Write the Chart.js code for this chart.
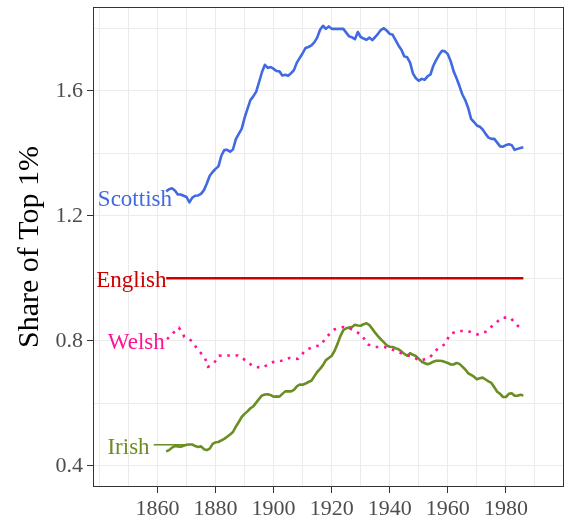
<!DOCTYPE html>
<html>
<head>
<meta charset="utf-8">
<script src="https://cdn.jsdelivr.net/npm/chart.js@4.4.0/dist/chart.umd.min.js"></script>
<style>
  html, body { margin: 0; padding: 0; background: #fff; }
  #chart { display: block; }
</style>
</head>
<body>
<canvas id="chart" width="568" height="523"></canvas>
<script>
// annual series, 1863-1986
const years = [];
for (let yr = 1863; yr <= 1986; yr++) years.push(yr);

const scottish = [
  1.278, 1.285, 1.288, 1.281, 1.268, 1.268, 1.264, 1.260, 1.243, 1.258,
  1.264, 1.265, 1.270, 1.282, 1.303, 1.328, 1.340, 1.350, 1.358, 1.392,
  1.410, 1.411, 1.405, 1.412, 1.445, 1.462, 1.478, 1.513, 1.542, 1.570,
  1.582, 1.597, 1.628, 1.660, 1.683, 1.673, 1.676, 1.670, 1.663, 1.662,
  1.649, 1.651, 1.648, 1.656, 1.666, 1.690, 1.705, 1.720, 1.737, 1.740,
  1.745, 1.755, 1.770, 1.795, 1.808, 1.798, 1.806, 1.798, 1.798, 1.798,
  1.798, 1.798, 1.786, 1.774, 1.771, 1.765, 1.788, 1.772, 1.767, 1.763,
  1.770, 1.762, 1.772, 1.783, 1.795, 1.800, 1.792, 1.782, 1.779, 1.762,
  1.745, 1.731, 1.710, 1.707, 1.690, 1.655, 1.640, 1.632, 1.638, 1.635,
  1.646, 1.652, 1.680, 1.699, 1.715, 1.728, 1.726, 1.717, 1.694, 1.662,
  1.640, 1.615, 1.588, 1.570, 1.545, 1.510, 1.500, 1.489, 1.485, 1.476,
  1.462, 1.450, 1.446, 1.446, 1.434, 1.422, 1.421, 1.426, 1.429, 1.426,
  1.411, 1.414, 1.417, 1.419
];

const irish = [
  0.446, 0.450, 0.458, 0.463, 0.462, 0.461, 0.464, 0.467, 0.468, 0.468,
  0.463, 0.460, 0.462, 0.453, 0.450, 0.455, 0.470, 0.475, 0.476, 0.481,
  0.486, 0.493, 0.500, 0.508, 0.525, 0.540, 0.556, 0.566, 0.574, 0.584,
  0.590, 0.602, 0.614, 0.625, 0.628, 0.629, 0.626, 0.621, 0.622, 0.621,
  0.630, 0.638, 0.638, 0.638, 0.643, 0.654, 0.660, 0.659, 0.663, 0.668,
  0.672, 0.686, 0.700, 0.710, 0.722, 0.738, 0.745, 0.752, 0.768, 0.790,
  0.815, 0.834, 0.840, 0.842, 0.844, 0.851, 0.849, 0.848, 0.853, 0.856,
  0.850, 0.838, 0.825, 0.814, 0.804, 0.795, 0.785, 0.781, 0.780, 0.776,
  0.773, 0.766, 0.758, 0.752, 0.760, 0.755, 0.751, 0.742, 0.733, 0.729,
  0.725, 0.728, 0.733, 0.736, 0.736, 0.735, 0.732, 0.729, 0.724, 0.724,
  0.729, 0.726, 0.717, 0.708, 0.696, 0.691, 0.685, 0.677, 0.680, 0.682,
  0.676, 0.670, 0.665, 0.651, 0.637, 0.630, 0.620, 0.620, 0.630, 0.632,
  0.624, 0.624, 0.627, 0.625
];

// welsh is drawn dotted
const welshYears = [
  1863.3, 1865.4, 1867.4, 1869.3, 1871.9, 1873.9, 1876.3, 1877.4, 1879.5, 1881.2,
  1884.3, 1887.7, 1890.4, 1892.9, 1896.1, 1899.3, 1902.7, 1905.5, 1908.4, 1910.9,
  1913.9, 1916.2, 1918.3, 1920.9, 1924.1, 1927.6, 1930.4, 1932.5, 1935.0, 1938.2,
  1941.6, 1944.4, 1947.4, 1950.6, 1953.8, 1956.1, 1959.1, 1960.7, 1963.5, 1966.9,
  1970.2, 1973.4, 1975.9, 1978.8, 1981.5, 1983.9, 1985.5
];
const welsh = [
  0.805, 0.825, 0.842, 0.812, 0.799, 0.771, 0.747, 0.716, 0.729, 0.752,
  0.753, 0.753, 0.737, 0.718, 0.713, 0.731, 0.736, 0.745, 0.742, 0.769,
  0.782, 0.785, 0.813, 0.836, 0.844, 0.835, 0.817, 0.788, 0.780, 0.780,
  0.769, 0.758, 0.750, 0.736, 0.747, 0.771, 0.790, 0.821, 0.831, 0.831,
  0.820, 0.830, 0.853, 0.874, 0.874, 0.849, 0.840
];

// English is the reference group
const englishYears = [1863, 1986];
const english = [1.0, 1.0];

// leader line from the "Irish" label
const irishLeaderYears = [1858.7, 1870];
const irishLeader = [0.467, 0.467];

const xGrid = [1840, 1850, 1860, 1870, 1880, 1890, 1900, 1910, 1920, 1930, 1940, 1950, 1960, 1970, 1980, 1990];
const xLabels = [1860, 1880, 1900, 1920, 1940, 1960, 1980];
const yGrid = [0.4, 0.6, 0.8, 1.0, 1.2, 1.4, 1.6, 1.8];
const yLabels = [0.4, 0.8, 1.2, 1.6];

const colors = {
  Scottish: '#4169E1',
  English: '#CD0000',
  Welsh: '#FF1493',
  Irish: '#6B8E23'
};

// where the direct labels sit (data coords, right-aligned)
const seriesLabels = [
  { text: 'Scottish', x: 1865, y: 1.259 },
  { text: 'English', x: 1863.1, y: 1.0 },
  { text: 'Welsh', x: 1862.5, y: 0.801 },
  { text: 'Irish', x: 1857.3, y: 0.467 }
];

const serif = '"Liberation Serif", "DejaVu Serif", serif';

function pts(xs, ys) {
  return xs.map((x, i) => ({ x: x, y: ys[i] }));
}
function isLabel(list, v) {
  return list.some(l => Math.abs(l - v) < 1e-6);
}

const panelPlugin = {
  id: 'panel',
  afterDatasetsDraw(chart) {
    const { ctx, chartArea: a, scales: { x, y } } = chart;
    ctx.save();
    ctx.font = '23px ' + serif;
    ctx.textAlign = 'right';
    ctx.textBaseline = 'middle';
    seriesLabels.forEach(l => {
      ctx.fillStyle = colors[l.text];
      // +3px so the cap height centres on the value
      ctx.fillText(l.text, x.getPixelForValue(l.x), y.getPixelForValue(l.y) + 3);
    });
    ctx.strokeStyle = '#333333';
    ctx.lineWidth = 1;
    ctx.strokeRect(a.left + 0.5, a.top + 0.5, a.width - 1, a.height - 1);
    ctx.restore();
  }
};

const lineBase = { pointRadius: 0, tension: 0, borderJoinStyle: 'round', fill: false };

new Chart(document.getElementById('chart'), {
  type: 'line',
  data: {
    datasets: [
      Object.assign({ label: 'Scottish', data: pts(years, scottish), borderColor: colors.Scottish, borderWidth: 2.6 }, lineBase),
      Object.assign({ label: 'English', data: pts(englishYears, english), borderColor: colors.English, borderWidth: 2.6 }, lineBase),
      Object.assign({ label: 'Welsh', data: pts(welshYears, welsh), borderColor: colors.Welsh, borderWidth: 2.6, borderDash: [2.6, 5.7] }, lineBase),
      Object.assign({ label: 'Irish', data: pts(years, irish), borderColor: colors.Irish, borderWidth: 2.6 }, lineBase),
      Object.assign({ label: 'Irish leader', data: pts(irishLeaderYears, irishLeader), borderColor: colors.Irish, borderWidth: 1.4 }, lineBase)
    ]
  },
  options: {
    responsive: false,
    animation: false,
    layout: { padding: { left: 0, right: 4, top: 7, bottom: 0 } },
    plugins: { legend: { display: false }, tooltip: { enabled: false } },
    scales: {
      x: {
        type: 'linear',
        min: 1837.8,
        max: 2000,
        afterBuildTicks: s => { s.ticks = xGrid.map(v => ({ value: v })); },
        afterFit: s => { s.height = 36; s.paddingLeft = 0; s.paddingRight = 0; },
        border: { display: false },
        grid: {
          color: '#ebebeb',
          lineWidth: 1,
          tickLength: 6,
          tickWidth: 1,
          tickColor: c => (c.tick && isLabel(xLabels, c.tick.value)) ? '#333333' : 'rgba(0,0,0,0)'
        },
        ticks: {
          autoSkip: false,
          maxRotation: 0,
          padding: 3,
          color: '#4d4d4d',
          font: { family: serif, size: 22 },
          callback: v => isLabel(xLabels, v) ? String(v) : ''
        }
      },
      y: {
        type: 'linear',
        min: 0.332,
        max: 1.868,
        afterBuildTicks: s => { s.ticks = yGrid.map(v => ({ value: v })); },
        afterFit: s => { s.width = 93; s.paddingTop = 0; s.paddingBottom = 0; },
        border: { display: false },
        grid: {
          color: '#ebebeb',
          lineWidth: 1,
          tickLength: 6,
          tickWidth: 1,
          tickColor: c => (c.tick && isLabel(yLabels, c.tick.value)) ? '#333333' : 'rgba(0,0,0,0)'
        },
        ticks: {
          autoSkip: false,
          padding: 4,
          color: '#4d4d4d',
          font: { family: serif, size: 22 },
          callback: v => isLabel(yLabels, v) ? v.toFixed(1) : ''
        },
        title: {
          display: true,
          text: 'Share of Top 1%',
          color: '#000000',
          font: { family: serif, size: 30 },
          padding: { top: 12, bottom: 0 }
        }
      }
    }
  },
  plugins: [panelPlugin]
});
</script>
</body>
</html>
